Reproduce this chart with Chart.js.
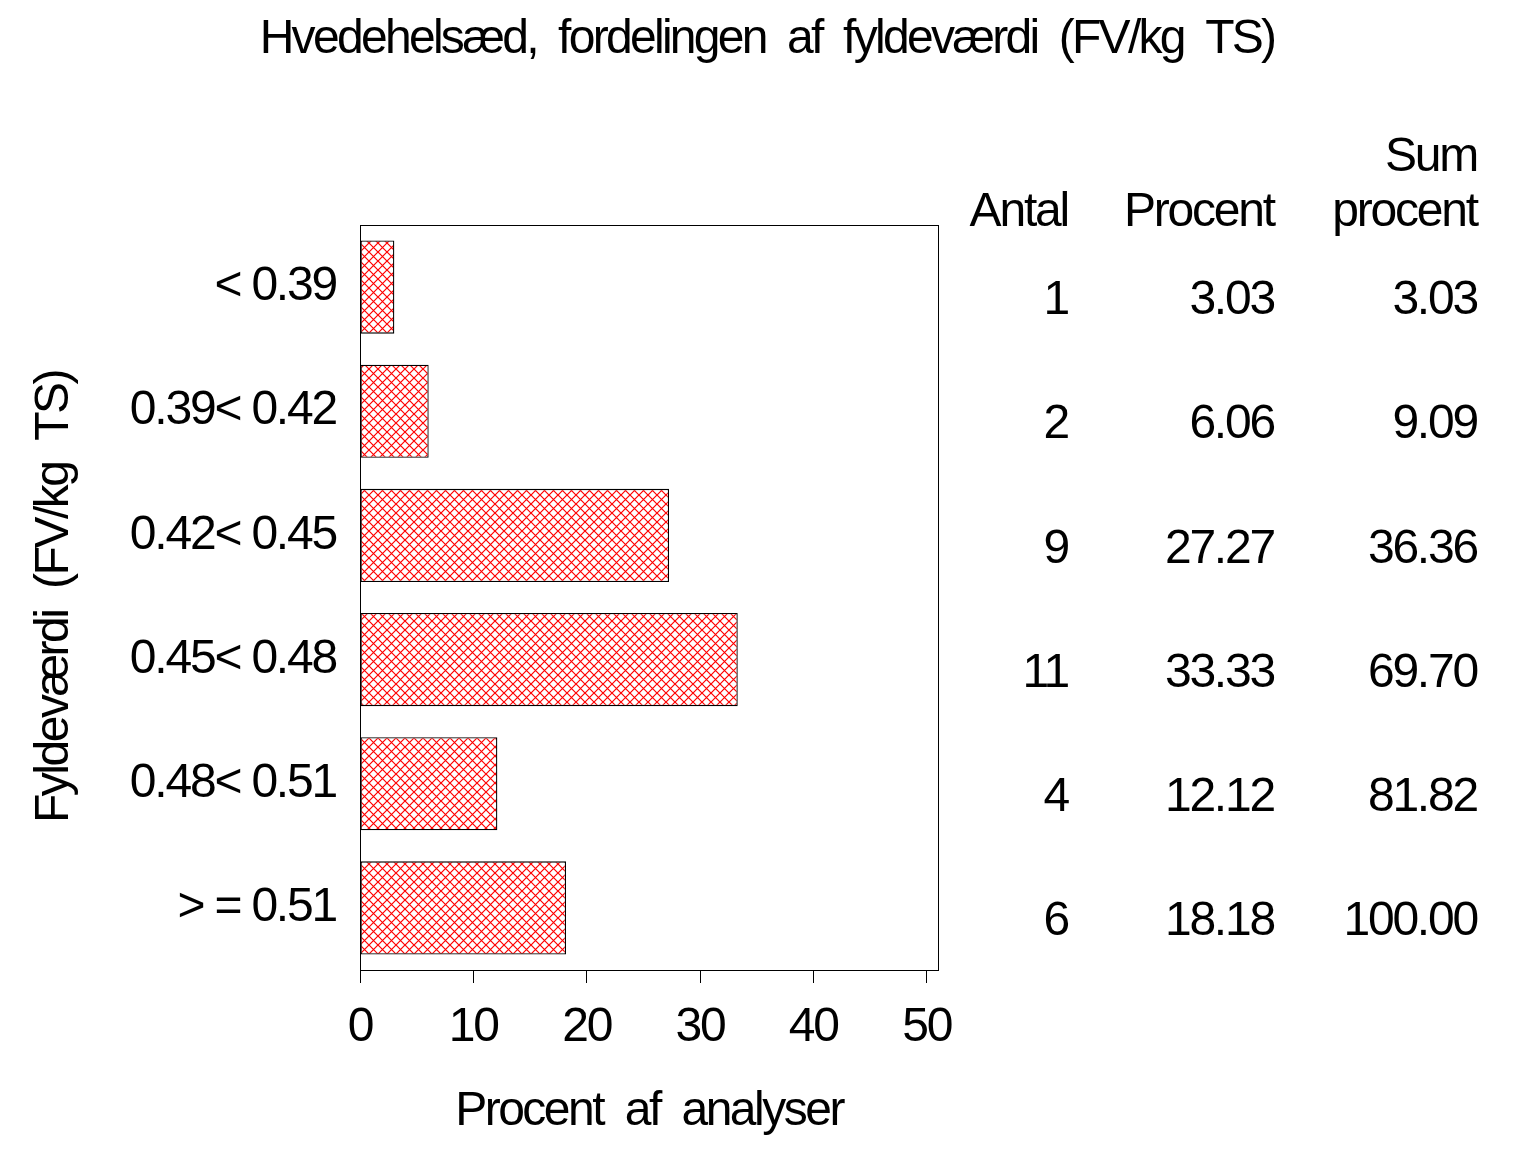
<!DOCTYPE html>
<html><head><meta charset="utf-8">
<script src="https://cdn.jsdelivr.net/npm/chart.js@4/dist/chart.umd.min.js"></script>
<style>html,body{margin:0;padding:0;background:#fff}</style></head>
<body>
<canvas id="c" width="1536" height="1152" style="display:block"></canvas>
<script>
const chartTitle = 'Hvedehelsæd,  fordelingen  af  fyldeværdi  (FV/kg  TS)';
const yTitle = 'Fyldeværdi  (FV/kg  TS)';
const xTitle = 'Procent  af  analyser';
const categories = ['< 0.39', '0.39< 0.42', '0.42< 0.45', '0.45< 0.48', '0.48< 0.51', '> = 0.51'];
const percent = [3.03, 6.06, 27.27, 33.33, 12.12, 18.18];
const counts = [1, 2, 9, 11, 4, 6];
const cumPercent = [3.03, 9.09, 36.36, 69.70, 81.82, 100.00];
const xTicks = [0, 10, 20, 30, 40, 50];
const colHeaders = [['', 'Antal'], ['', 'Procent'], ['Sum', 'procent']];

const FONT = "'Liberation Sans', Arial, sans-serif";
const FS = 48;
const LS = '-2.2px';

function hatch() {
  const p = 9;
  const c = document.createElement('canvas');
  c.width = p; c.height = p;
  const g = c.getContext('2d');
  g.fillStyle = '#fff'; g.fillRect(0, 0, p, p);
  g.strokeStyle = '#ff0000'; g.lineWidth = 1.2;
  g.beginPath();
  g.moveTo(0, 0); g.lineTo(p, p);
  g.moveTo(p, 0); g.lineTo(0, p);
  g.stroke();
  return document.getElementById('c').getContext('2d').createPattern(c, 'repeat');
}

const textPlugin = {
  id: 'texts',
  beforeDraw(chart) {
    chart.ctx.letterSpacing = LS;
  },
  afterDatasetsDraw(chart) {
    const {ctx, chartArea: a} = chart;
    ctx.save();
    ctx.strokeStyle = '#000'; ctx.lineWidth = 1;
    ctx.strokeRect(Math.round(a.left) + 0.5, Math.round(a.top) + 0.5, Math.round(a.right - a.left), Math.round(a.bottom - a.top));
    ctx.restore();
  },
  afterDraw(chart) {
    const {ctx, chartArea: a} = chart;
    const ys = chart.scales.y;
    ctx.save();
    ctx.fillStyle = '#000';
    ctx.font = FS + 'px ' + FONT;
    ctx.textBaseline = 'middle';
    ctx.textAlign = 'center';
    ctx.letterSpacing = '-2.7px';
    ctx.fillText(chartTitle, 767, 40);
    ctx.letterSpacing = '-2.5px';
    ctx.fillText(xTitle, (a.left + a.right) / 2, 1112);
    ctx.save();
    ctx.translate(55, 597);
    ctx.rotate(-Math.PI / 2);
    ctx.fillText(yTitle, 0, 0);
    ctx.restore();
    ctx.letterSpacing = LS;
    ctx.textAlign = 'right';
    const colX = [1068, 1274, 1477];
    colHeaders.forEach((h, i) => {
      ctx.fillText(h[0], colX[i], 158);
      ctx.fillText(h[1], colX[i], 213);
    });
    categories.forEach((c, i) => {
      const y = ys.getPixelForValue(i) + 14;
      ctx.fillText(String(counts[i]), colX[0], y);
      ctx.fillText(percent[i].toFixed(2), colX[1], y);
      ctx.fillText(cumPercent[i].toFixed(2), colX[2], y);
    });
    ctx.restore();
  }
};

new Chart(document.getElementById('c'), {
  type: 'bar',
  data: {
    labels: categories,
    datasets: [{
      data: percent,
      backgroundColor: hatch(),
      borderColor: '#000',
      borderWidth: 1.3,
      borderSkipped: false,
      barPercentage: 0.75,
      categoryPercentage: 1
    }]
  },
  options: {
    indexAxis: 'y',
    responsive: false,
    animation: false,
    devicePixelRatio: 1,
    layout: {padding: {left: 0, top: 225, right: 598, bottom: 0}},
    plugins: {legend: {display: false}, tooltip: {enabled: false}, title: {display: false}},
    scales: {
      x: {
        min: 0, max: 51,
        afterBuildTicks(s) { s.ticks = xTicks.map(v => ({value: v})); },
        afterFit(s) { s.height = 182; },
        ticks: {font: {family: FONT, size: FS}, color: '#000', padding: 16, maxRotation: 0, autoSkip: false},
        grid: {drawOnChartArea: false, drawTicks: true, tickLength: 13, color: '#000', lineWidth: 1},
        border: {display: true, color: '#000', width: 1}
      },
      y: {
        afterFit(s) { s.width = 360; },
        ticks: {font: {family: FONT, size: FS}, color: '#000', padding: 16, autoSkip: false},
        grid: {display: false},
        border: {display: false}
      }
    }
  },
  plugins: [textPlugin]
});
</script>
</body></html>
